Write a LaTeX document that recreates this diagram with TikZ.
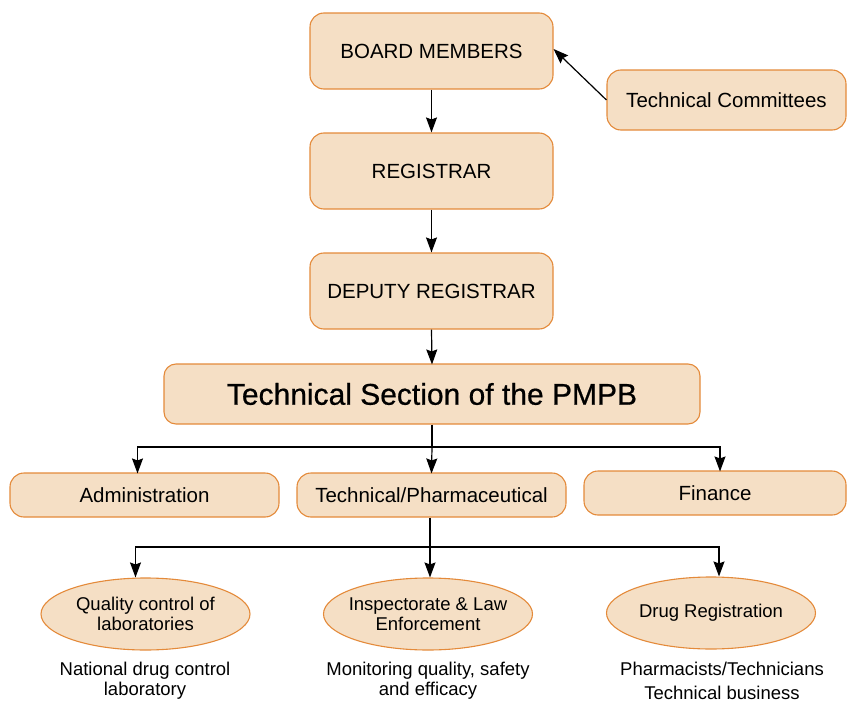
\documentclass[tikz,border=0pt]{standalone}
\usepackage{fontspec}
\setmainfont{Liberation Sans}
\newfontfamily\headfont[FakeBold=0.6]{Liberation Sans}
\usetikzlibrary{shapes.geometric,arrows.meta}
\definecolor{boxfill}{RGB}{245,223,197}
\definecolor{boxline}{RGB}{228,138,58}
\begin{document}
\begin{tikzpicture}[x=1pt,y=-1pt,
  rbox/.style={draw=boxline,fill=boxfill,line width=1.1pt,rounded corners=14pt,
    inner sep=0pt,font=\fontsize{20.5}{24}\selectfont},
  oval/.style={ellipse,draw=boxline,fill=boxfill,line width=1.1pt,inner xsep=-20pt,inner ysep=0pt,
    minimum width=209pt,minimum height=72pt,align=center,
    font=\fontsize{18.5}{19.5}\selectfont},
  note/.style={align=center,inner sep=0pt,font=\fontsize{18.5}{20}\selectfont},
  arr/.style={-{Stealth[length=15pt,width=11pt,inset=2pt]},line width=1.2pt,black}]
\useasboundingbox (0,0) rectangle (847,704);

% management chain
\node[rbox,minimum width=243pt,minimum height=76pt] (board) at (431.5,51) {BOARD MEMBERS};
\node[rbox,minimum width=239pt,minimum height=60pt] (tc) at (726.5,100) {Technical Committees};
\node[rbox,minimum width=243pt,minimum height=76pt] (reg) at (431.5,171) {REGISTRAR};
\node[rbox,minimum width=243pt,minimum height=76pt] (dep) at (431.5,291) {DEPUTY REGISTRAR};
\node[rbox,minimum width=536pt,minimum height=60pt,rounded corners=12pt,
  font=\headfont\fontsize{30}{34}\selectfont] (tsec) at (432,394) {Technical Section of the PMPB};

% divisions
\node[rbox,minimum width=269pt,minimum height=44pt] (admin) at (144.5,495) {Administration};
\node[rbox,minimum width=269pt,minimum height=44pt] (pharm) at (431.5,495) {Technical/Pharmaceutical};
\node[rbox,minimum width=262pt,minimum height=44pt] (fin) at (715,493) {Finance};

% units
\node[oval] (qc) at (145.5,614) {Quality control of\\laboratories};
\node[oval] (insp) at (428,614) {Inspectorate \& Law\\Enforcement};
\node[oval] (drug) at (711,613) {Drug Registration};

\node[note] (qcn) at (145,681) {National drug control\\laboratory};
\node[note] (inspn) at (428,681) {Monitoring quality, safety\\and efficacy};
\node[note,font=\fontsize{18.5}{24}\selectfont] (drugn) at (722,681) {Pharmacists/Technicians\\Technical business};

% connectors
\draw[arr] (board.south) -- (reg.north);
\draw[arr] (reg.south) -- (dep.north);
\draw[arr] (dep.south) -- ([yshift=-1pt]tsec.north);
\draw[arr] (tc.west) -- ([yshift=2pt]board.east);

\coordinate (j1) at (432,447);
\draw[arr] (tsec.south) -- (j1) -| ([shift={(-7pt,-1pt)}]admin.north);
\draw[arr] (j1) -- ([yshift=-1pt]pharm.north);
\draw[arr] (j1) -| ([shift={(5pt,-1pt)}]fin.north);

\coordinate (j2) at (430,547);
\draw[arr] (pharm.south -| j2) -- (j2) -| ([xshift=-10pt]qc.north);
\draw[arr] (j2) -- (j2 |- insp.north);
\draw[arr] (j2) -| ([xshift=8pt]drug.north);
\end{tikzpicture}
\end{document}
